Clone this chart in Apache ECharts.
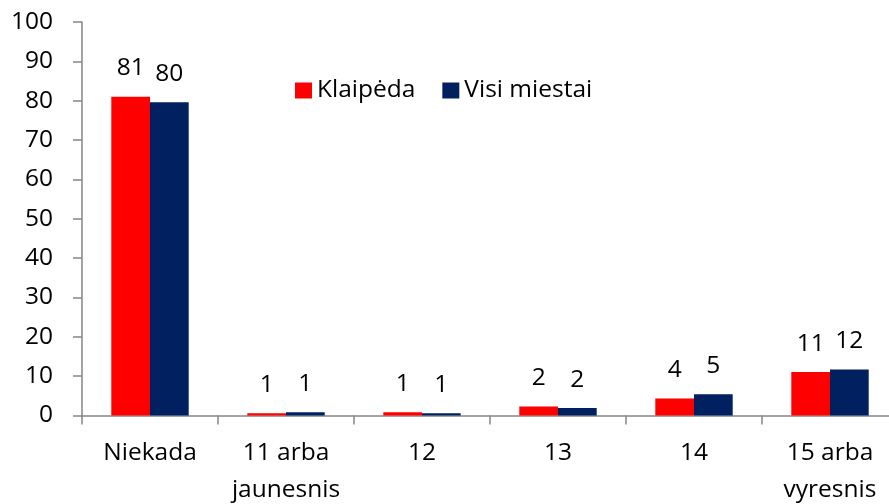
<!DOCTYPE html>
<html>
<head>
<meta charset="utf-8">
<script src="https://cdn.jsdelivr.net/npm/echarts@6/dist/echarts.min.js"></script>
<style>
  html, body { margin: 0; padding: 0; background: #fff; }
  #chart { width: 889px; height: 504px; }
</style>
</head>
<body>
<div id="chart"></div>
<script>
// kategorijos ir reikšmės
const categories = ['Niekada', '11 arba\njaunesnis', '12', '13', '14', '15 arba\nvyresnis'];
const klaipeda = [81.0, 0.55, 0.8, 2.3, 4.3, 11.05];
const visiMiestai = [79.6, 0.8, 0.55, 1.9, 5.4, 11.7];
const yTicks = { min: 0, max: 100, interval: 10 };

const font = '"Open Sans", "Noto Sans", sans-serif';
const fontSize = 24.5;
const axisColor = '#868686';

const chart = echarts.init(document.getElementById('chart'));

const labelStyle = {
  show: true,
  position: 'top',
  distance: 16,
  color: '#000',
  fontFamily: font,
  fontSize: fontSize,
  formatter: p => Math.round(p.value)
};

chart.setOption({
  animation: false,
  textStyle: { fontFamily: font },
  legend: {
    left: 290,
    top: 73,
    itemWidth: 17,
    itemHeight: 16,
    itemGap: 27,
    icon: 'rect',
    textStyle: { color: '#000', fontSize: fontSize, fontFamily: font },
    data: ['Klaipėda', 'Visi miestai']
  },
  grid: {
    left: 82,
    top: 22,
    width: 816,
    height: 393.5,
    outerBoundsMode: 'none'
  },
  xAxis: {
    type: 'category',
    data: categories,
    axisLine: { lineStyle: { color: axisColor, width: 1.5 } },
    axisTick: { show: true, length: 9, lineStyle: { color: axisColor, width: 1.5 } },
    axisLabel: {
      color: '#000',
      fontSize: fontSize,
      fontFamily: font,
      margin: 19,
      lineHeight: 37,
      interval: 0
    }
  },
  yAxis: {
    type: 'value',
    min: yTicks.min,
    max: yTicks.max,
    interval: yTicks.interval,
    splitLine: { show: false },
    axisLine: { show: true, lineStyle: { color: axisColor, width: 1.5 } },
    axisTick: { show: true, length: 9, lineStyle: { color: axisColor, width: 1.5 } },
    axisLabel: {
      color: '#000',
      fontSize: fontSize,
      fontFamily: font,
      margin: 29
    }
  },
  series: [
    {
      name: 'Klaipėda',
      type: 'bar',
      data: klaipeda,
      barWidth: 38.7,
      barGap: '0%',
      itemStyle: { color: '#FF0000' },
      label: labelStyle
    },
    {
      name: 'Visi miestai',
      type: 'bar',
      data: visiMiestai,
      barWidth: 38.7,
      barGap: '0%',
      itemStyle: { color: '#002060' },
      label: labelStyle
    }
  ]
});

window.addEventListener('resize', () => chart.resize());
</script>
</body>
</html>
